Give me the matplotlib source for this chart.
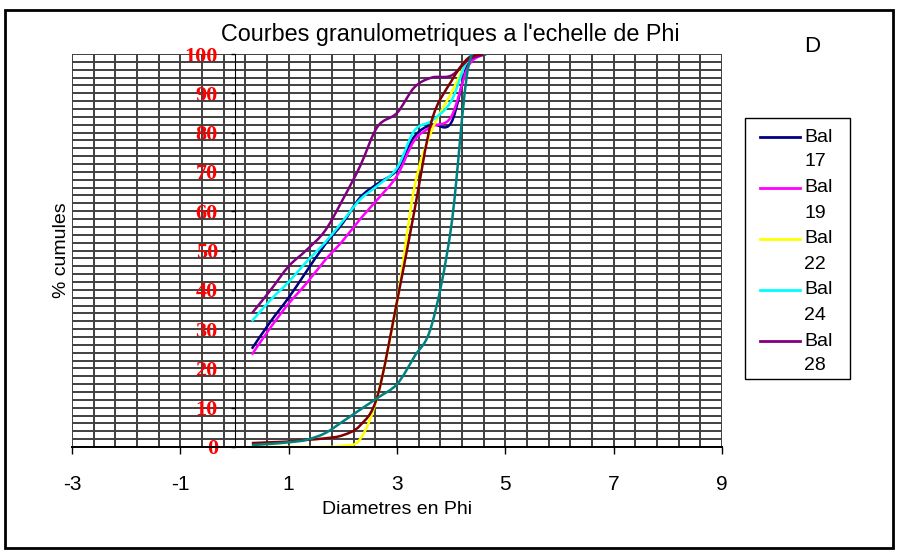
import numpy as np
import matplotlib.pyplot as plt
from matplotlib.path import Path
from matplotlib.patches import PathPatch, Rectangle
from matplotlib.lines import Line2D

plt.rcParams['axes.unicode_minus'] = False

# data (phi classes, cumulative %)
phi = [0.32, 0.67, 1.0, 1.32, 1.67, 2.0, 2.32, 2.64, 3.0, 3.32, 3.64, 4.0, 4.32, 4.64]
bal17 = [25, 32, 38, 44.5, 51.5, 57, 63.5, 67, 70.5, 79, 82, 82.5, 98, 100]
bal19 = [23.5, 30.5, 36.5, 41.5, 47.5, 52.5, 58, 63, 69, 78, 81.5, 84, 97, 100]
bal22 = [0, 0, 0, 0, 0, 0.3, 2, 13, 37, 66, 80.5, 90, 98.5, 100]
bal24 = [32, 37.5, 42, 47, 52, 57.5, 63, 66.5, 71, 80.5, 83, 88, 99, 100]
bal28 = [34, 40, 46, 50, 55, 63, 71.5, 81.5, 85, 91.5, 94, 94.5, 98.5, 100]
serie6 = [1, 1.2, 1.4, 1.8, 2.2, 3, 5.5, 13, 37, 60, 83, 93, 99, 100]
serie7 = [0.5, 0.8, 1.2, 1.8, 3.5, 6.5, 9.5, 12.5, 16, 23, 31, 56, 97, 100]

series = [bal17, bal19, bal22, bal24, bal28, serie6, serie7]
colors = ['#000080', '#FF00FF', '#FFFF00', '#00FFFF', '#800080', '#800000', '#008080']
legend_names = ['Bal\n17', 'Bal\n19', 'Bal\n22', 'Bal\n24', 'Bal\n28']

x_ticks = [-3, -1, 1, 3, 5, 7, 9]
y_ticks = [0, 10, 20, 30, 40, 50, 60, 70, 80, 90, 100]

W, H = 902, 551
def fx(px): return px / W
def fy(py): return 1 - py / H


def smooth_path(xs, ys):
    # excel-like smoothed line (catmull-rom -> bezier)
    p = np.column_stack([xs, ys]).astype(float)
    n = len(p)
    verts = [p[0]]
    codes = [Path.MOVETO]
    for i in range(n - 1):
        p0 = p[i - 1] if i > 0 else p[i]
        p3 = p[i + 2] if i + 2 < n else p[i + 1]
        c1 = p[i] + (p[i + 1] - p0) / 6
        c2 = p[i + 1] - (p3 - p[i]) / 6
        verts += [c1, c2, p[i + 1]]
        codes += [Path.CURVE4] * 3
    return Path(verts, codes)


fig = plt.figure(figsize=(W / 100, H / 100), dpi=100)
ax = fig.add_axes([fx(72), fy(447), (722 - 72) / W, (447 - 54) / H])

ax.set_xlim(-3, 9)
ax.set_ylim(0, 100)
ax.set_xticks(x_ticks)
ax.set_xticks(np.arange(-3, 9.01, 0.4), minor=True)
ax.set_yticks(y_ticks)
ax.set_yticks(np.arange(0, 100.1, 2), minor=True)
ax.grid(True, which='both', color='#404040', lw=1.4)
ax.set_axisbelow(True)

for s in ['top', 'right']:
    ax.spines[s].set_visible(False)
ax.spines['left'].set_position(('data', 0))
ax.spines['left'].set_color('black')
ax.spines['bottom'].set_color('black')
ax.spines['bottom'].set_linewidth(1.4)

ax.tick_params(axis='x', which='major', direction='out', length=5, width=1, pad=15,
               labelsize=15)
ax.tick_params(axis='y', which='major', direction='out', length=3, width=1, pad=9,
               labelsize=16, labelcolor='red')
ax.tick_params(which='minor', length=0)
for lab in ax.get_xticklabels():
    lab.set_family('Liberation Sans')
for lab in ax.get_yticklabels():
    lab.set_family('Liberation Serif')
    lab.set_fontweight('bold')

for ys, c in zip(series, colors):
    ax.add_patch(PathPatch(smooth_path(phi, ys), fill=False, edgecolor=c, lw=1.8))

ax.set_xlabel('Diametres en Phi', fontsize=14, family='Liberation Sans')
ax.xaxis.set_label_coords(0.5, -0.158)
ax.xaxis.label.set_va('center')
ax.set_ylabel('% cumules', fontsize=14, family='Liberation Sans')
ax.yaxis.set_label_coords(-0.016, 0.5)
ax.yaxis.label.set_va('center')

fig.text(fx(450), fy(34), "Courbes granulometriques a l'echelle de Phi", fontsize=16.8,
         family='Liberation Sans', ha='center', va='center')
fig.text(fx(812), fy(46), 'D', fontsize=16, family='Liberation Sans', ha='center', va='center')

# legend box (first five series only, as in the original)
fig.patches.append(Rectangle((fx(745), fy(379)), (850 - 745) / W, (379 - 118) / H,
                             transform=fig.transFigure, fill=False, edgecolor='black', lw=1))
for i, (name, c) in enumerate(zip(legend_names, colors)):
    y0 = 137 + i * 51
    fig.lines.append(Line2D([fx(760), fx(800)], [fy(y0), fy(y0)], color=c, lw=2,
                            transform=fig.transFigure))
    top, num = name.split('\n')
    fig.text(fx(804), fy(y0), top, fontsize=14, family='Liberation Sans', va='center')
    fig.text(fx(804), fy(y0 + 25), num, fontsize=14, family='Liberation Sans', va='center')

# outer frame
fig.patches.append(Rectangle((fx(5), fy(548)), (893 - 5) / W, (548 - 10) / H,
                             transform=fig.transFigure, fill=False, edgecolor='black', lw=2))

fig.savefig('out.png', dpi=100)
